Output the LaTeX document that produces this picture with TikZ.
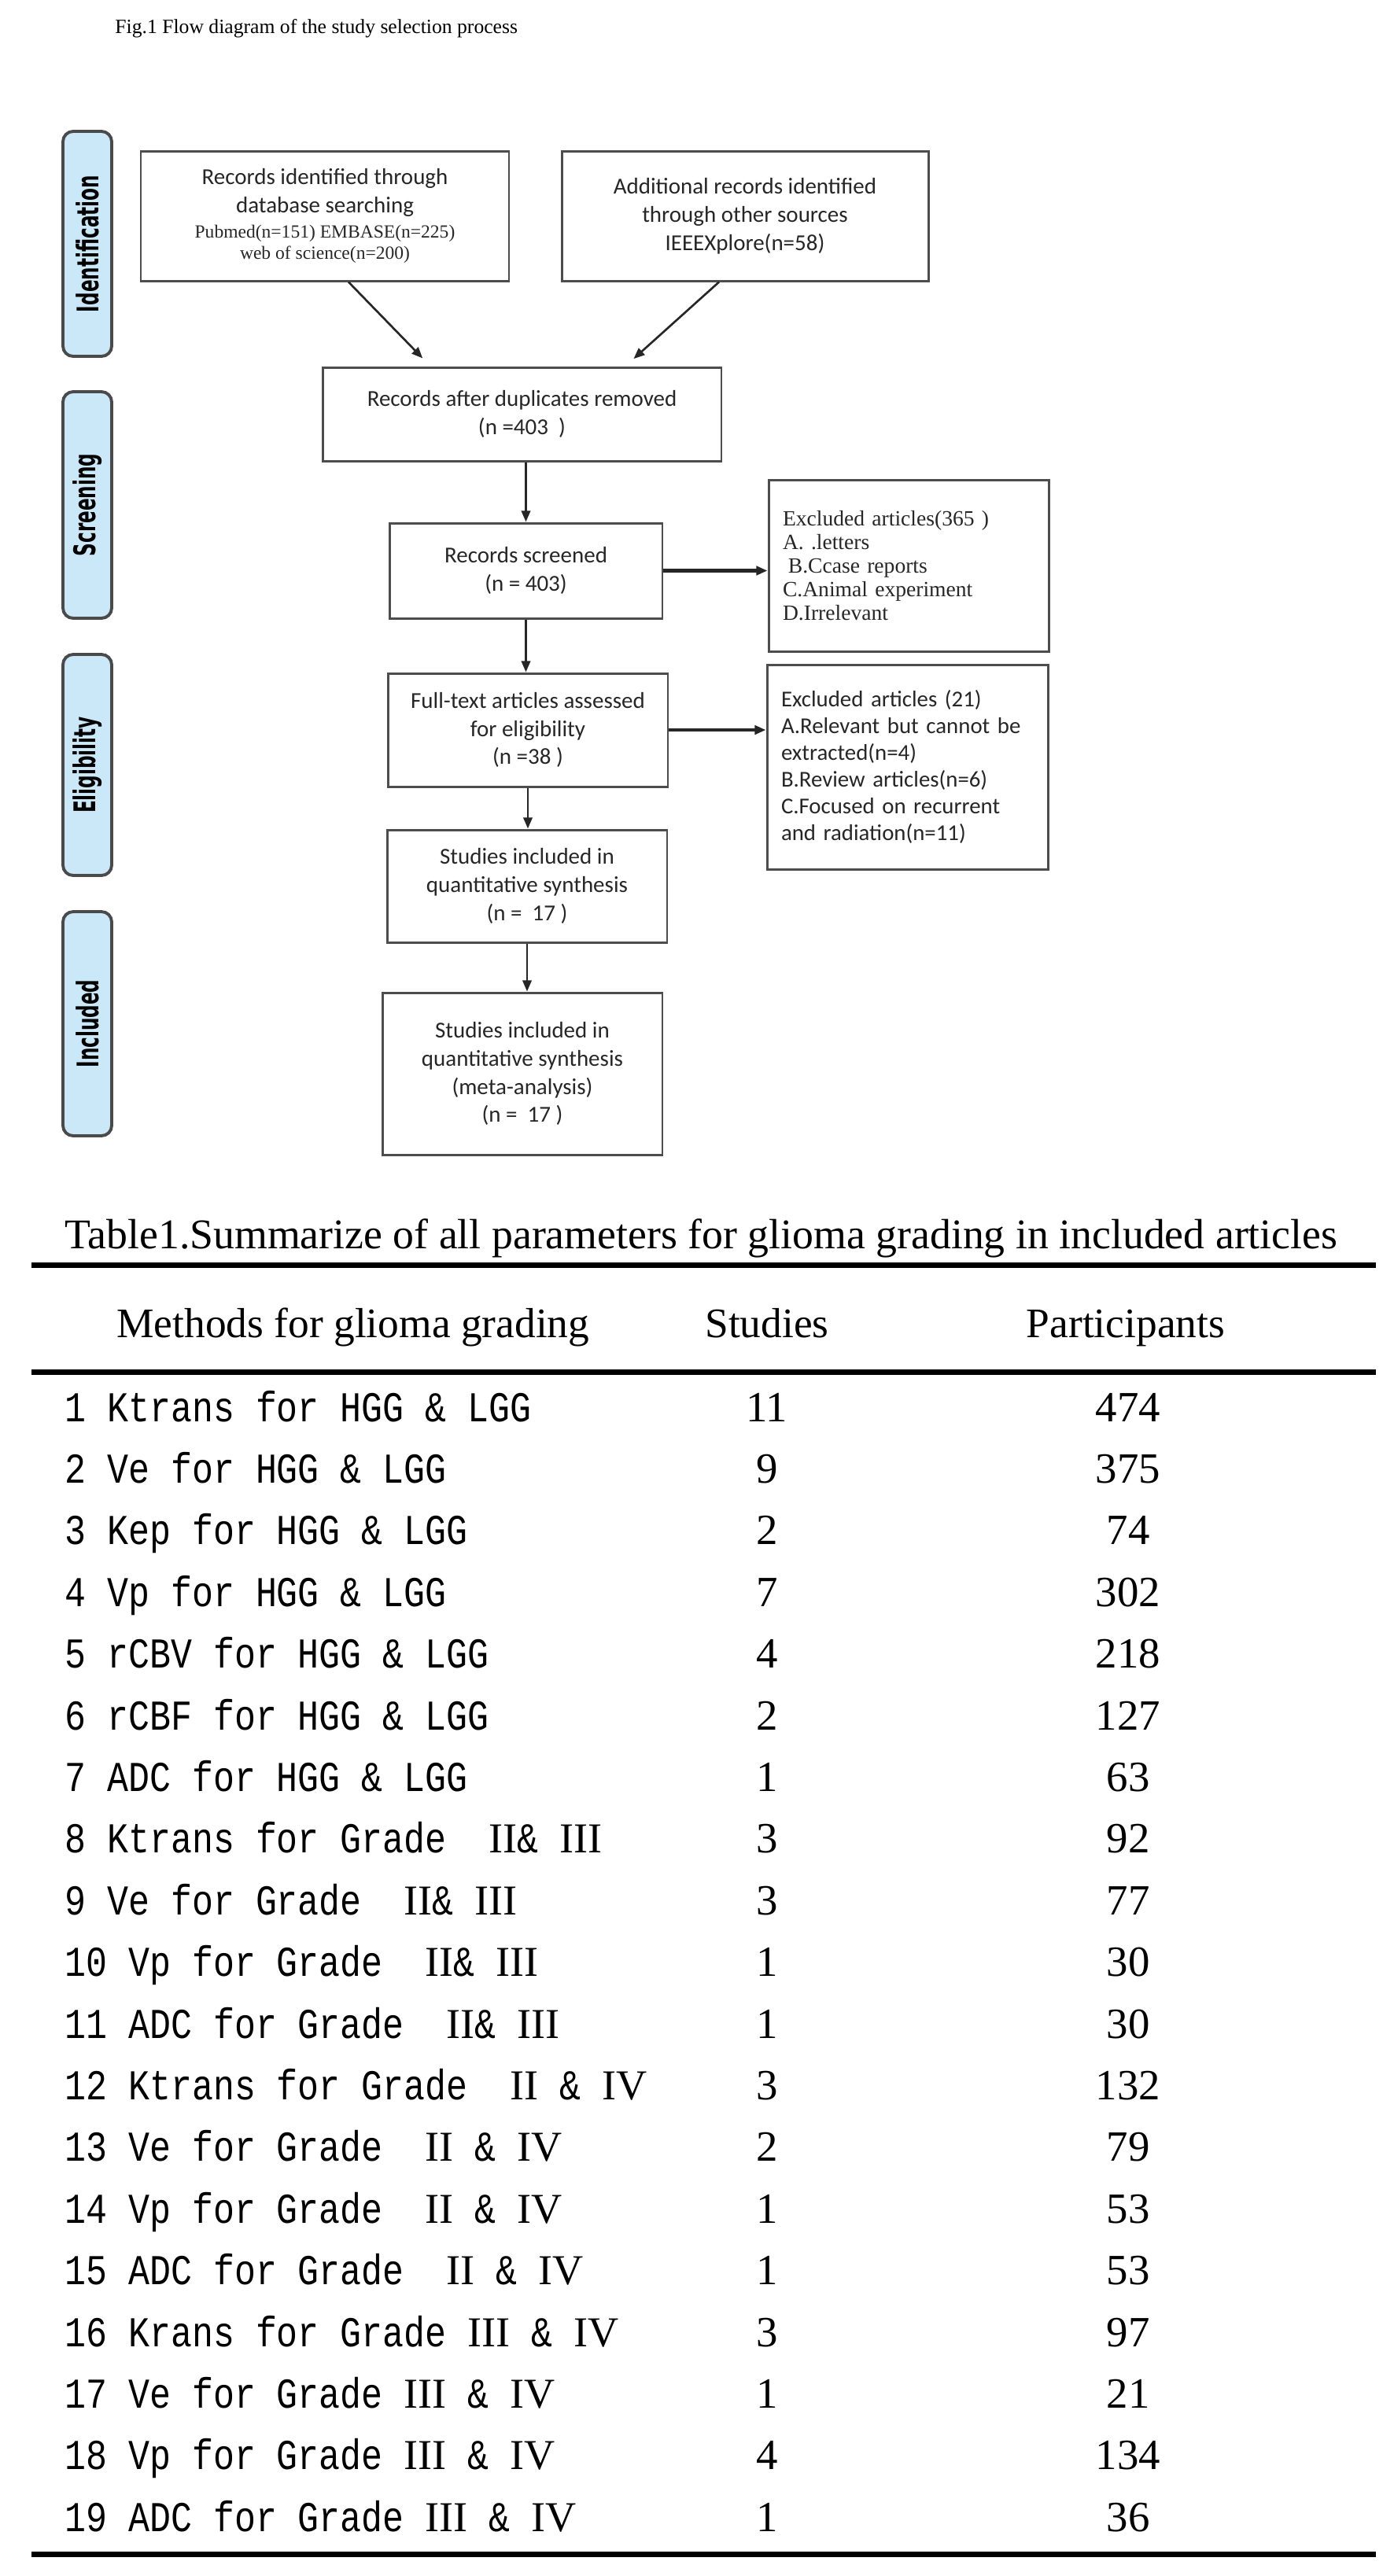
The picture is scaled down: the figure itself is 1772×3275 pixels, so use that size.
\documentclass[tikz,border=0pt]{standalone}
\usepackage{fontspec}
\setmainfont{Liberation Serif}
\newfontfamily\boxfont{Carlito}
\newfontfamily\stagefont[FakeStretch=0.61]{DejaVu Sans Bold}
\newfontfamily\tabmono[FakeStretch=0.83]{Liberation Mono}
\usetikzlibrary{arrows.meta,positioning}
\definecolor{barblue}{HTML}{CBE8F8}
\definecolor{bargray}{HTML}{4A4A4A}
\definecolor{boxgray}{HTML}{4D4D4D}
\definecolor{inkgray}{HTML}{262626}
\newcommand{\romn}[1]{{\rmfamily #1}}
\newcommand{\srcline}[1]{{\rmfamily\fontsize{6.7}{7.7}\selectfont #1}}

\begin{document}
\begin{tikzpicture}[x=0.1mm,y=-0.1mm,
	stage/.style={draw=bargray,fill=barblue,line width=1.1pt,rounded corners=1.3mm,rotate=90,
		minimum height=6.2mm,inner sep=0pt,font=\stagefont\fontsize{10.8}{11}\selectfont},
	flowbox/.style={draw=boxgray,line width=0.85pt,align=center,inner sep=0pt,text=inkgray,
		font=\boxfont\fontsize{8.25}{10.2}\selectfont},
	exclbox/.style={flowbox,align=left,inner xsep=1.8mm},
	flowarrow/.style={-{Triangle[length=4pt,width=3.2pt]},line width=0.75pt,draw=inkgray},
	rowtext/.style={anchor=base west,font=\tabmono\fontsize{15.4}{16}\selectfont},
	rownum/.style={anchor=base,font=\fontsize{15.6}{16}\selectfont},
	tabrule/.style={line width=2pt}]
	\useasboundingbox (0,0) rectangle (1772,3275);

	\node [anchor=base west,font=\fontsize{7.3}{8}\selectfont] (figtitle) at (134,42)
		{Fig.1 Flow diagram of the study selection process};

	\node [stage,minimum width=28.6mm] (ident)  at (111,310)    {Identification};
	\node [stage,minimum width=28.8mm] (screen) at (111,642)    {Screening};
	\node [stage,minimum width=28.1mm] (elig)   at (111,972.5)  {Eligibility};
	\node [stage,minimum width=28.5mm] (incl)   at (111,1301.5) {Included};

	\node [flowbox,minimum width=46.8mm,minimum height=16.5mm] (dbsearch) at (413,274.5)
		{Records identified through\\database searching\\[-1.1pt]\srcline{Pubmed(n=151) EMBASE(n=225)}\\[-2.5pt]\srcline{web of science(n=200)}};
	\node [flowbox,minimum width=46.6mm,minimum height=16.5mm] (other) at (947,274.5)
		{Additional records identified\\through other sources\\IEEEXplore(n=58)};
	\node [flowbox,minimum width=50.7mm,minimum height=11.9mm] (dedup) at (663.5,526.5)
		{Records after duplicates removed\\(n =403 \ )};
	\node [flowbox,minimum width=34.7mm,minimum height=12.1mm] (screened) at (668.5,725.5)
		{Records screened\\(n = 403)};
	\node [flowbox,minimum width=35.6mm,minimum height=14.4mm] (fulltext) at (671,928)
		{Full-text articles assessed\\for eligibility\\(n =38 )};
	\node [flowbox,minimum width=35.6mm,minimum height=14.3mm] (quant) at (670,1126.5)
		{Studies included in\\quantitative synthesis\\(n = \ 17 )};
	\node [flowbox,minimum width=35.6mm,minimum height=20.6mm] (meta) at (664,1365)
		{Studies included in\\quantitative synthesis\\(meta-analysis)\\(n = \ 17 )};
	\node [exclbox,text width=32mm,minimum height=21.8mm,font=\fontsize{7.85}{8.55}\selectfont] (excla) at (1155,719)
		{Excluded articles(365 )\\A. .letters\\\hspace*{0.25em}B.Ccase reports\\C.Animal experiment\\D.Irrelevant};
	\node [exclbox,text width=32.1mm,minimum height=26mm,font=\boxfont\fontsize{8.2}{9.67}\selectfont] (exclb) at (1153.5,975)
		{Excluded articles (21)\\A.Relevant but cannot be\\extracted(n=4)\\B.Review articles(n=6)\\C.Focused on recurrent\\and radiation(n=11)};

	\draw [flowarrow,shorten >=1.4mm] ([xshift=3mm]dbsearch.south) -- ([xshift=-11.65mm]dedup.north);
	\draw [flowarrow,shorten >=1.4mm] ([xshift=-3.3mm]other.south) -- ([xshift=13.15mm]dedup.north);
	\draw [flowarrow] (dedup.south -| screened.north) -- (screened.north);
	\draw [flowarrow,line width=1.3pt] (screened.east) -- (screened.east -| excla.west);
	\draw [flowarrow] (screened.south) -- (screened.south |- fulltext.north);
	\draw [flowarrow,line width=1.3pt] (fulltext.east) -- (fulltext.east -| exclb.west);
	\draw [flowarrow] (fulltext.south) -- (fulltext.south |- quant.north);
	\draw [flowarrow] (quant.south) -- (quant.south |- meta.north);

	\node [anchor=base west,font=\fontsize{15.3}{16}\selectfont] (tabtitle) at (70,1587)
		{Table1.Summarize of all parameters for glioma grading in included articles};
	\draw [tabrule] (40,1608) -- (1749,1608);
	\node [anchor=base west,font=\fontsize{15.2}{16}\selectfont] (hmeth) at (136,1700) {Methods for glioma grading};
	\node [rownum,font=\fontsize{15.2}{16}\selectfont] (hstud) at (975,1700) {Studies};
	\node [rownum,font=\fontsize{15.2}{16}\selectfont] (hpart) at (1431,1700) {Participants};
	\draw [tabrule] (40,1744) -- (1749,1744);

	\foreach \meth/\stud/\part [count=\i from 0] in {
		{1 Ktrans for HGG \& LGG}/11/474,
		{2 Ve for HGG \& LGG}/9/375,
		{3 Kep for HGG \& LGG}/2/74,
		{4 Vp for HGG \& LGG}/7/302,
		{5 rCBV for HGG \& LGG}/4/218,
		{6 rCBF for HGG \& LGG}/2/127,
		{7 ADC for HGG \& LGG}/1/63,
		{8 Ktrans for Grade~~\romn{II}\& \romn{III}}/3/92,
		{9 Ve for Grade~~\romn{II}\& \romn{III}}/3/77,
		{10 Vp for Grade~~\romn{II}\& \romn{III}}/1/30,
		{11 ADC for Grade~~\romn{II}\& \romn{III}}/1/30,
		{12 Ktrans for Grade~~\romn{II} \& \romn{IV}}/3/132,
		{13 Ve for Grade~~\romn{II} \& \romn{IV}}/2/79,
		{14 Vp for Grade~~\romn{II} \& \romn{IV}}/1/53,
		{15 ADC for Grade~~\romn{II} \& \romn{IV}}/1/53,
		{16 Krans for Grade \romn{III} \& \romn{IV}}/3/97,
		{17 Ve for Grade \romn{III} \& \romn{IV}}/1/21,
		{18 Vp for Grade \romn{III} \& \romn{IV}}/4/134,
		{19 ADC for Grade \romn{III} \& \romn{IV}}/1/36}{
		\pgfmathsetmacro{\yrow}{1807+78.4*\i}
		\node [rowtext] (meth\i) at (70,\yrow) {\meth};
		\node [rownum] (stud\i) at (975,\yrow) {\stud};
		\node [rownum] (part\i) at (1434,\yrow) {\part};
	}
	\draw [tabrule] (40,3247) -- (1749,3247);
\end{tikzpicture}
\end{document}
